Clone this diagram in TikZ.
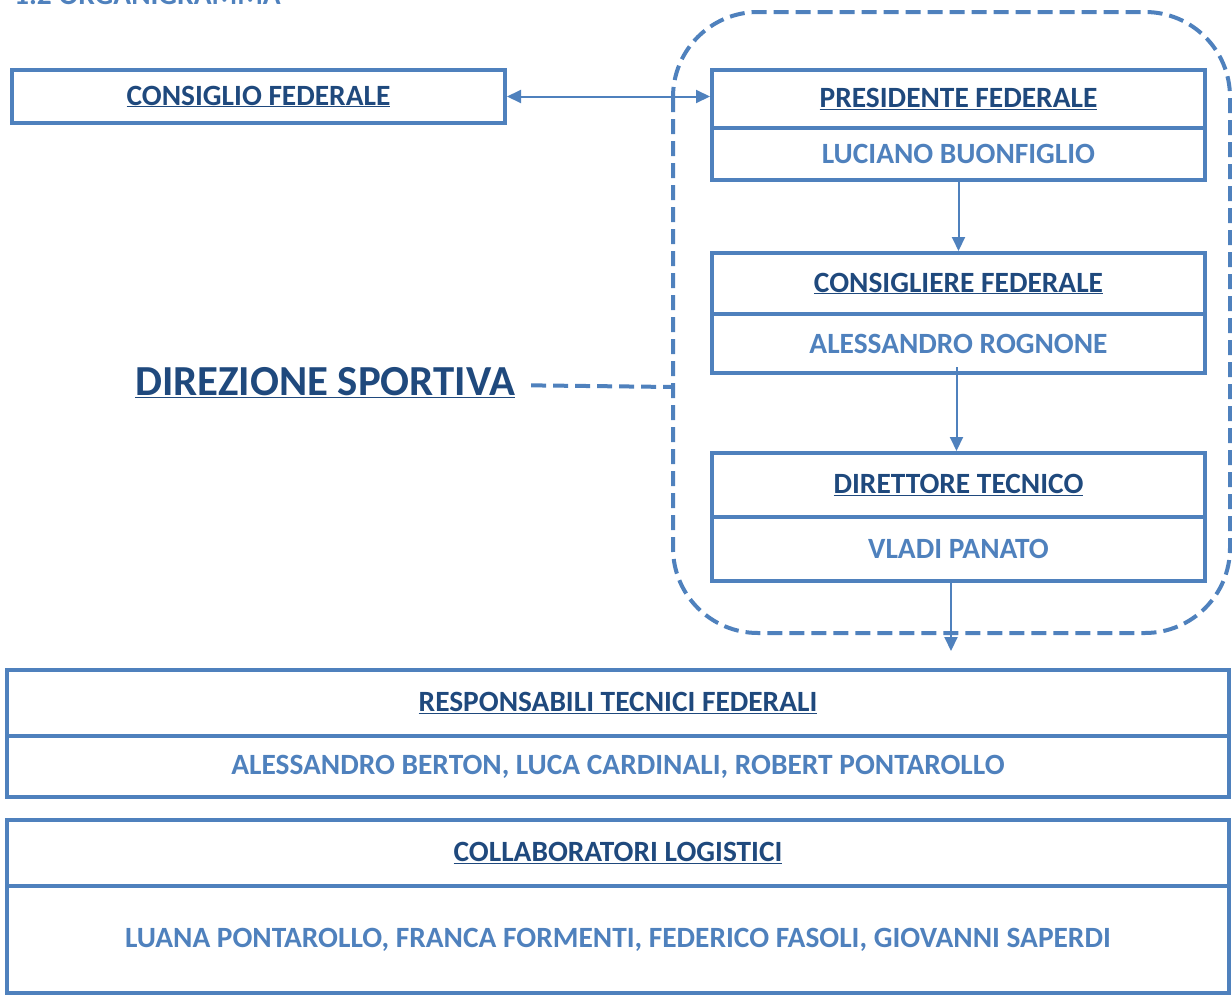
\documentclass[tikz,border=0pt]{standalone}
\usepackage{fontspec}
\setmainfont{Carlito}
\usetikzlibrary{arrows.meta}
\definecolor{boxblue}{RGB}{79,129,189}
\definecolor{darkblue}{RGB}{31,73,125}
\tikzset{
	cell/.style={draw=boxblue,line width=4pt,inner sep=0pt,font=\fontsize{29.4}{33}\selectfont\bfseries},
	head/.style={cell,text=darkblue},
	person/.style={cell,text=boxblue},
	link/.style={draw=boxblue,line width=2pt},
	dashline/.style={draw=boxblue,line width=4pt,dash pattern=on 15pt off 7pt}
}

\begin{document}
\begin{tikzpicture}[x=1pt,y=-1pt]
	\useasboundingbox (0,0) rectangle (1232,996);

	\node[anchor=base west,inner sep=0pt,text=boxblue,font=\fontsize{29.4}{33}\selectfont\bfseries] (title) at (14, 4) {1.2 ORGANIGRAMMA};

	\draw[dashline,rounded corners=85pt] (673,12) rectangle (1230,633);

	\node[head,minimum width=493pt,minimum height=53pt] (cf) at (258.5, 96.5) {\underline{CONSIGLIO FEDERALE}};

	\node[head,minimum width=493pt,minimum height=58pt] (pres) at (958.5, 99) {\underline{PRESIDENTE FEDERALE}};
	\node[person,minimum width=493pt,minimum height=52pt] (presn) at (958.5, 154) {LUCIANO BUONFIGLIO};
	\node[head,minimum width=493pt,minimum height=61pt] (cons) at (958.5, 283.5) {\underline{CONSIGLIERE FEDERALE}};
	\node[person,minimum width=493pt,minimum height=59pt] (consn) at (958.5, 343.5) {ALESSANDRO ROGNONE};
	\node[head,minimum width=493pt,minimum height=64pt] (dir) at (958.5, 485) {\underline{DIRETTORE TECNICO}};
	\node[person,minimum width=493pt,minimum height=64pt] (dirn) at (958.5, 549) {VLADI PANATO};

	\node[head,minimum width=1222pt,minimum height=66pt] (resp) at (618, 703) {\underline{RESPONSABILI TECNICI FEDERALI}};
	\node[person,minimum width=1222pt,minimum height=61pt] (respn) at (618, 766.5) {ALESSANDRO BERTON, LUCA CARDINALI, ROBERT PONTAROLLO};
	\node[head,minimum width=1222pt,minimum height=66pt] (coll) at (618, 853) {\underline{COLLABORATORI LOGISTICI}};
	\node[person,minimum width=1222pt,minimum height=107pt] (colln) at (618, 939.5) {LUANA PONTAROLLO, FRANCA FORMENTI, FEDERICO FASOLI, GIOVANNI SAPERDI};

	\node[text=darkblue,inner sep=16pt,font=\fontsize{42.8}{46}\selectfont\bfseries] (ds) at (325, 383) {\underline{DIREZIONE SPORTIVA}};
	\coordinate (dsend) at (673, 387);
	\coordinate (tip) at (951, 651);

	\draw[link,{Triangle[length=14pt,width=13pt]}-{Triangle[length=14pt,width=13pt]}] (cf.east) -- (pres.west |- cf.east);
	\draw[link,-{Triangle[length=14pt,width=13pt]}] (presn.south) -- (cons.north);
	\draw[link,-{Triangle[length=14pt,width=13pt]}] ([xshift=-2pt,yshift=8pt]consn.south) -- ([xshift=-2pt]dir.north);
	\draw[link,-{Triangle[length=14pt,width=13pt]}] (dirn.south -| tip) -- (tip);
	\draw[dashline] (ds) -- (dsend);
\end{tikzpicture}
\end{document}
